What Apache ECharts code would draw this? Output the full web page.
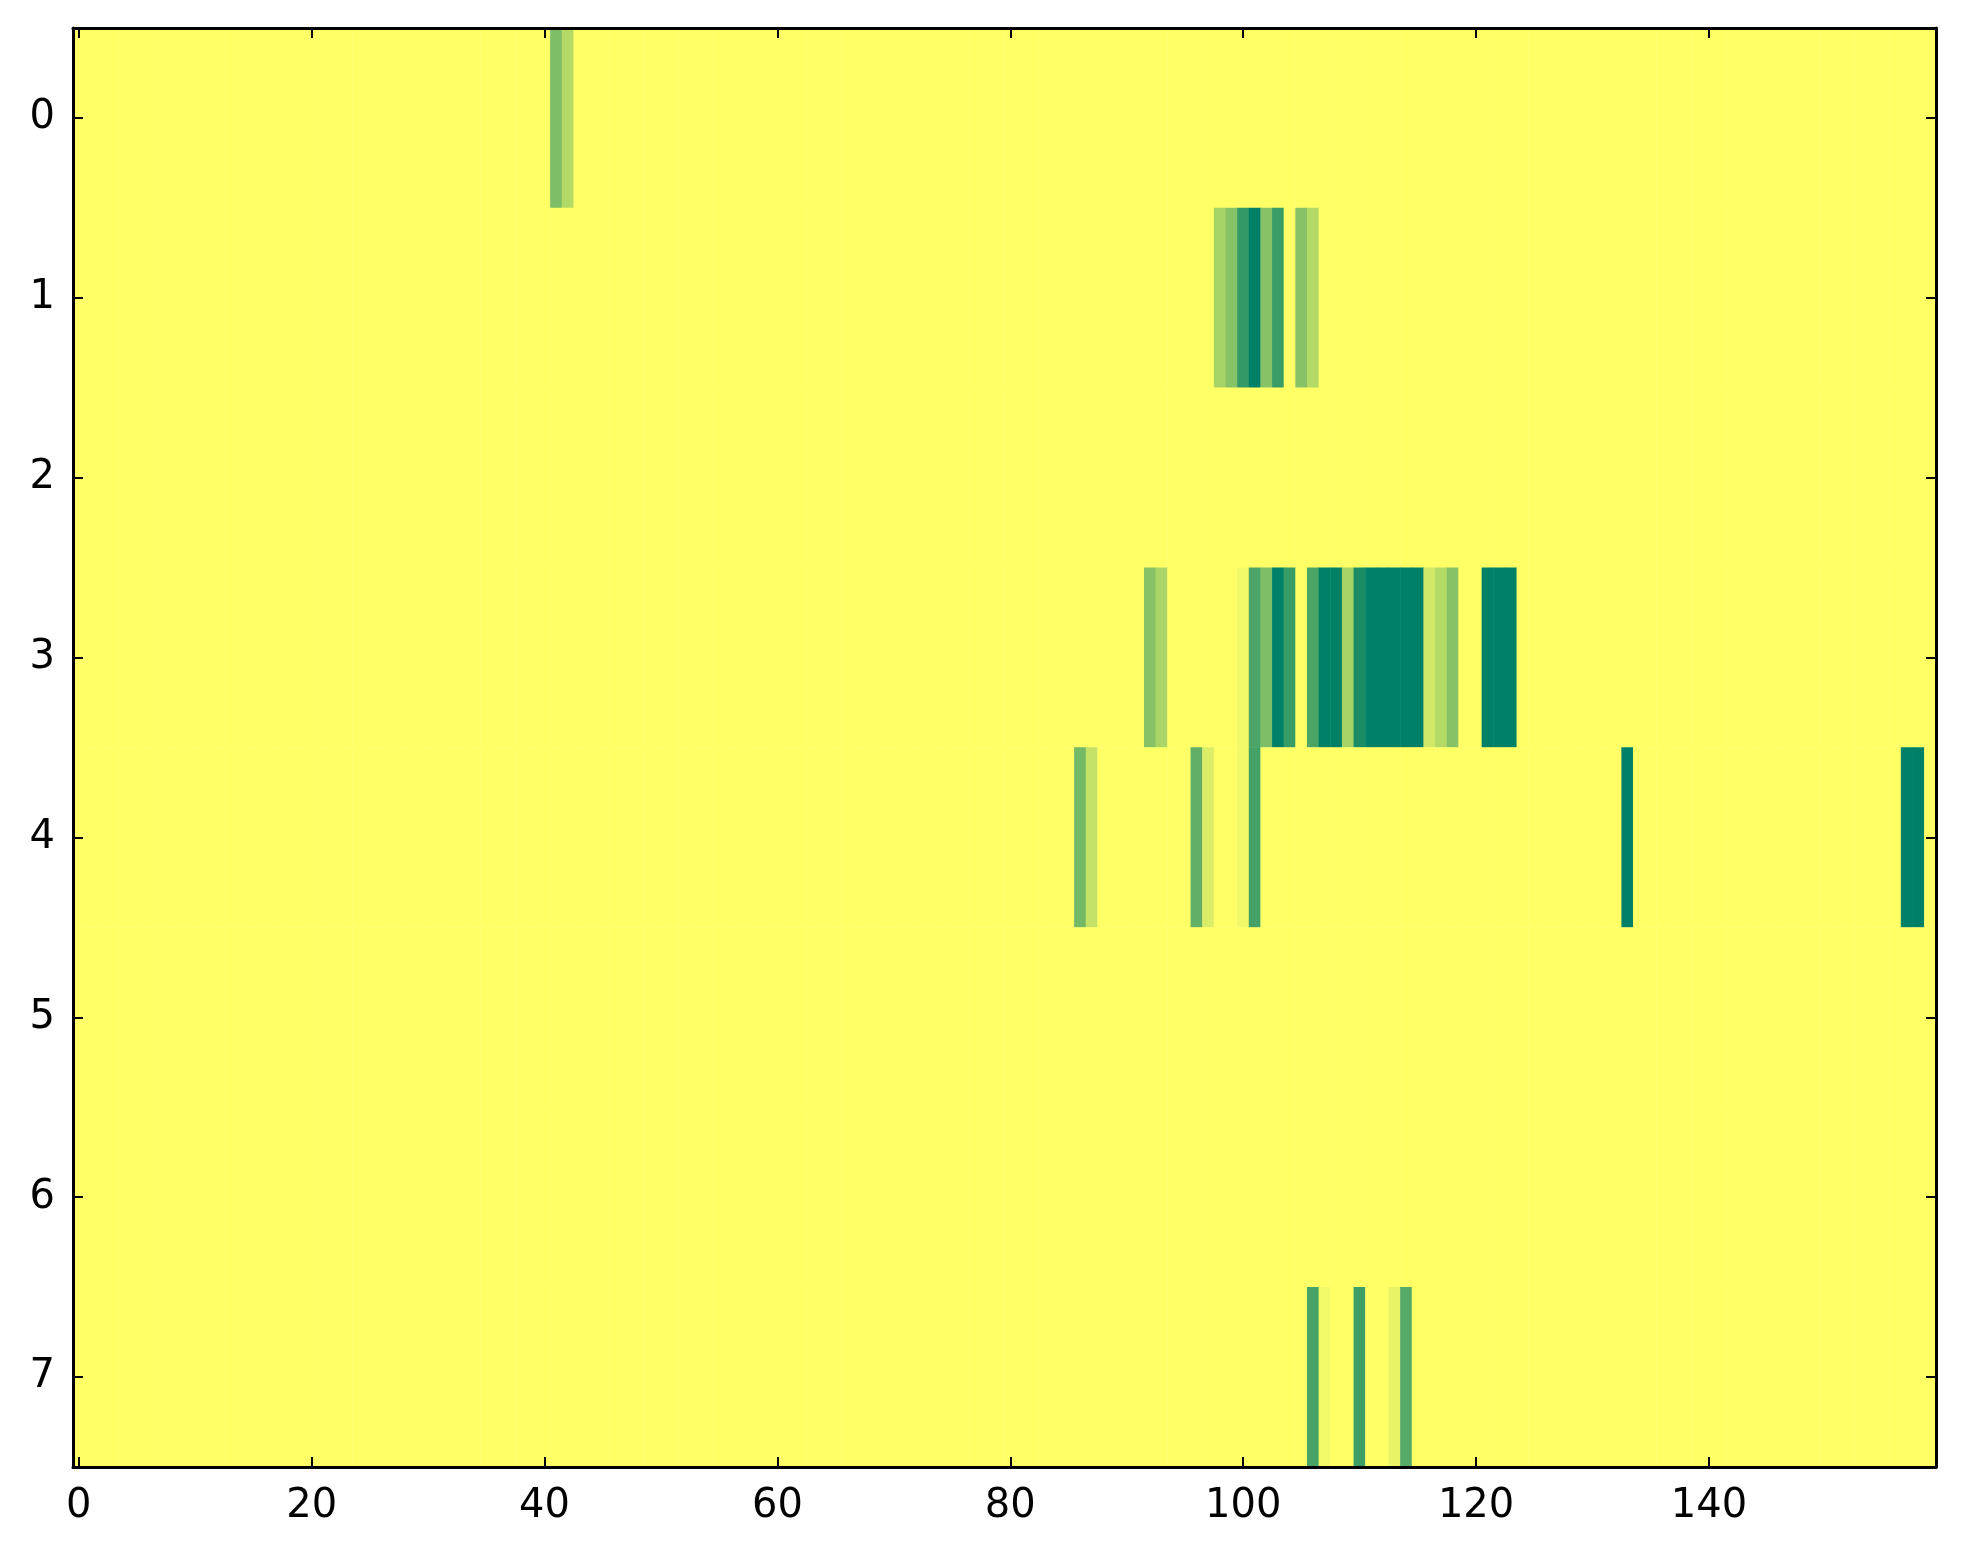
<!DOCTYPE html>
<html>
<head>
<meta charset="utf-8">
<script src="https://cdn.jsdelivr.net/npm/echarts@6/dist/echarts.min.js"></script>
<style>
    html, body { margin: 0; padding: 0; background: #fff; }
    #chart { width: 1963px; height: 1564px; }
</style>
</head>
<body>
<div id="chart"></div>
<script>
// grid size
var colCount = 160;
var rowLabels = ["0", "1", "2", "3", "4", "5", "6", "7"];

// non-zero cells per row: [column, value]
var row0 = [[41, 0.51], [42, 0.30]];
var row1 = [[98, 0.35], [99, 0.47], [100, 0.80], [101, 1.0], [102, 0.47],
    [103, 0.78], [105, 0.47], [106, 0.30]];
var row2 = [];
var row3 = [[92, 0.47], [93, 0.33], [100, 0.05], [101, 0.71], [102, 0.51],
    [103, 1.0], [104, 0.78], [106, 0.71], [107, 1.0], [108, 1.0],
    [109, 0.35], [110, 0.90], [111, 1.0], [112, 1.0], [113, 1.0],
    [114, 1.0], [115, 1.0], [116, 0.18], [117, 0.30], [118, 0.47],
    [121, 1.0], [122, 1.0], [123, 1.0]];
var row4 = [[86, 0.55], [87, 0.23], [96, 0.62], [97, 0.14], [100, 0.05],
    [101, 0.73], [133, 1.0], [157, 1.0], [158, 1.0]];
var row5 = [];
var row6 = [];
var row7 = [[106, 0.72], [107, 0.05], [110, 0.76], [113, 0.09], [114, 0.67]];

var rows = [row0, row1, row2, row3, row4, row5, row6, row7];

var colLabels = [];
for (var i = 0; i < colCount; i++) {
    colLabels.push(String(i));
}

var cells = [];
for (var r = 0; r < rows.length; r++) {
    var line = [];
    for (var c = 0; c < colCount; c++) {
        line.push(0);
    }
    rows[r].forEach(function (p) {
        line[p[0]] = p[1];
    });
    for (var c2 = 0; c2 < colCount; c2++) {
        cells.push([c2, r, line[c2]]);
    }
}

var font = "DejaVu Sans";
var spine = { show: true, onZero: false, lineStyle: { color: "#000", width: 3 } };

function xAxisOf(pos, labels) {
    return {
        type: "category",
        position: pos,
        data: colLabels,
        boundaryGap: true,
        axisLine: spine,
        axisTick: { show: true, inside: true, length: 10, interval: 19, alignWithLabel: true,
            lineStyle: { color: "#000", width: 2 } },
        axisLabel: { show: labels, interval: 19, color: "#000", fontFamily: font, fontSize: 40, margin: 20 },
        splitLine: { show: false },
        z: 10
    };
}

function yAxisOf(pos, labels) {
    return {
        type: "category",
        position: pos,
        inverse: true,
        data: rowLabels,
        boundaryGap: true,
        axisLine: spine,
        axisTick: { show: true, inside: true, length: 10, alignWithLabel: true,
            lineStyle: { color: "#000", width: 2 } },
        axisLabel: { show: labels, color: "#000", fontFamily: font, fontSize: 40, margin: 18 },
        splitLine: { show: false },
        z: 10
    };
}

var option = {
    animation: false,
    backgroundColor: "#fff",
    grid: { left: 73, right: 27, top: 28, bottom: 97, containLabel: false },
    xAxis: [xAxisOf("bottom", true), xAxisOf("top", false)],
    yAxis: [yAxisOf("left", true), yAxisOf("right", false)],
    visualMap: {
        show: false,
        min: 0,
        max: 1,
        dimension: 2,
        seriesIndex: 0,
        inRange: { color: ["#ffff66", "#008066"] }
    },
    series: [{
        type: "heatmap",
        xAxisIndex: 0,
        yAxisIndex: 0,
        data: cells,
        itemStyle: { borderWidth: 0 },
        emphasis: { disabled: true }
    }]
};

var chart = echarts.init(document.getElementById("chart"));
chart.setOption(option);
</script>
</body>
</html>
